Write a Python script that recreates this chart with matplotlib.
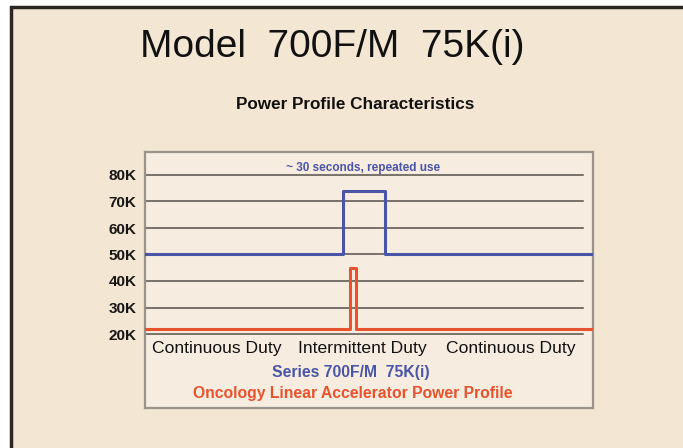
import matplotlib
matplotlib.use("Agg")
import matplotlib.pyplot as plt
from matplotlib.patches import Rectangle

plt.rcParams["font.family"] = ["Liberation Sans", "DejaVu Sans"]

# ---- data (power in K, time in % of the window) ----
blue_t = [0, 44.2, 44.2, 53.6, 53.6, 100]
blue_p = [50, 50, 74, 74, 50, 50]
red_t = [0, 45.8, 45.8, 47.2, 47.2, 100]
red_p = [22, 22, 45, 45, 22, 22]
ticks = [20, 30, 40, 50, 60, 70, 80]
tick_labels = ["20K", "30K", "40K", "50K", "60K", "70K", "80K"]
duty_labels = ["Continuous Duty", "Intermittent Duty", "Continuous Duty"]

BLUE = "#4b55a8"
RED = "#e8522c"
SLIDE = "#f3e6d3"
W, H = 683, 448

fig = plt.figure(figsize=(6.83, 4.48), dpi=100)
fig.patch.set_facecolor("white")

# slide background with dark frame
fig.patches.append(Rectangle((11 / W, -0.05), 1.0, 1 - 7 / H + 0.05,
                             transform=fig.transFigure, facecolor=SLIDE,
                             edgecolor="#2b2623", linewidth=2.5, zorder=-5))

fig.text(332 / W, 1 - 47 / H, "Model  700F/M  75K(i)", fontsize=28,
         ha="center", va="center", color="#111111")
fig.text(355 / W, 1 - 104 / H, "Power Profile Characteristics", fontsize=12.3,
         fontweight="bold", ha="center", va="center", color="#111111")

# chart box: left 145, right 593, top 152, bottom 408 (px)
left, right, top, bottom = 145, 593, 152, 408
ax = fig.add_axes([left / W, 1 - bottom / H, (right - left) / W, (bottom - top) / H])
ax.set_zorder(1)
ax.set_facecolor("#f6ede0")
px_per_k = 26.5 / 10
ax.set_ylim(20 - (bottom - 334) / px_per_k, 80 + (175 - top) / px_per_k)
ax.set_xlim(0, 100)
for s in ax.spines.values():
    s.set_color("#9a938c")
    s.set_linewidth(1.6)

for v in ticks:
    ax.axhline(v, xmin=0, xmax=0.978, color="#55504b", linewidth=1.1, zorder=1)

ax.plot(blue_t, blue_p, color=BLUE, linewidth=2.2, zorder=3)
ax.plot(red_t, red_p, color=RED, linewidth=2.2, zorder=3)

ax.set_xticks([])
ax.set_yticks(ticks)
ax.set_yticklabels(tick_labels, fontsize=11, fontweight="bold", color="#161616")
ax.tick_params(axis="y", length=0, pad=6)

ax.text(48.7, 80 + 7 / px_per_k, "~ 30 seconds, repeated use", color=BLUE,
        fontsize=8.5, fontweight="bold", ha="center", va="center")

duty_x = [217, 362, 511]
for x, lab in zip(duty_x, duty_labels):
    fig.text(x / W, 1 - 349 / H, lab, fontsize=12.6, ha="center", va="center",
             color="#111111")
fig.text(351 / W, 1 - 372 / H, "Series 700F/M  75K(i)", fontsize=11.3,
         fontweight="bold", ha="center", va="center", color=BLUE)
fig.text(353 / W, 1 - 393 / H, "Oncology Linear Accelerator Power Profile",
         fontsize=11.3, fontweight="bold", ha="center", va="center", color=RED)

fig.savefig("out.png", dpi=100)
